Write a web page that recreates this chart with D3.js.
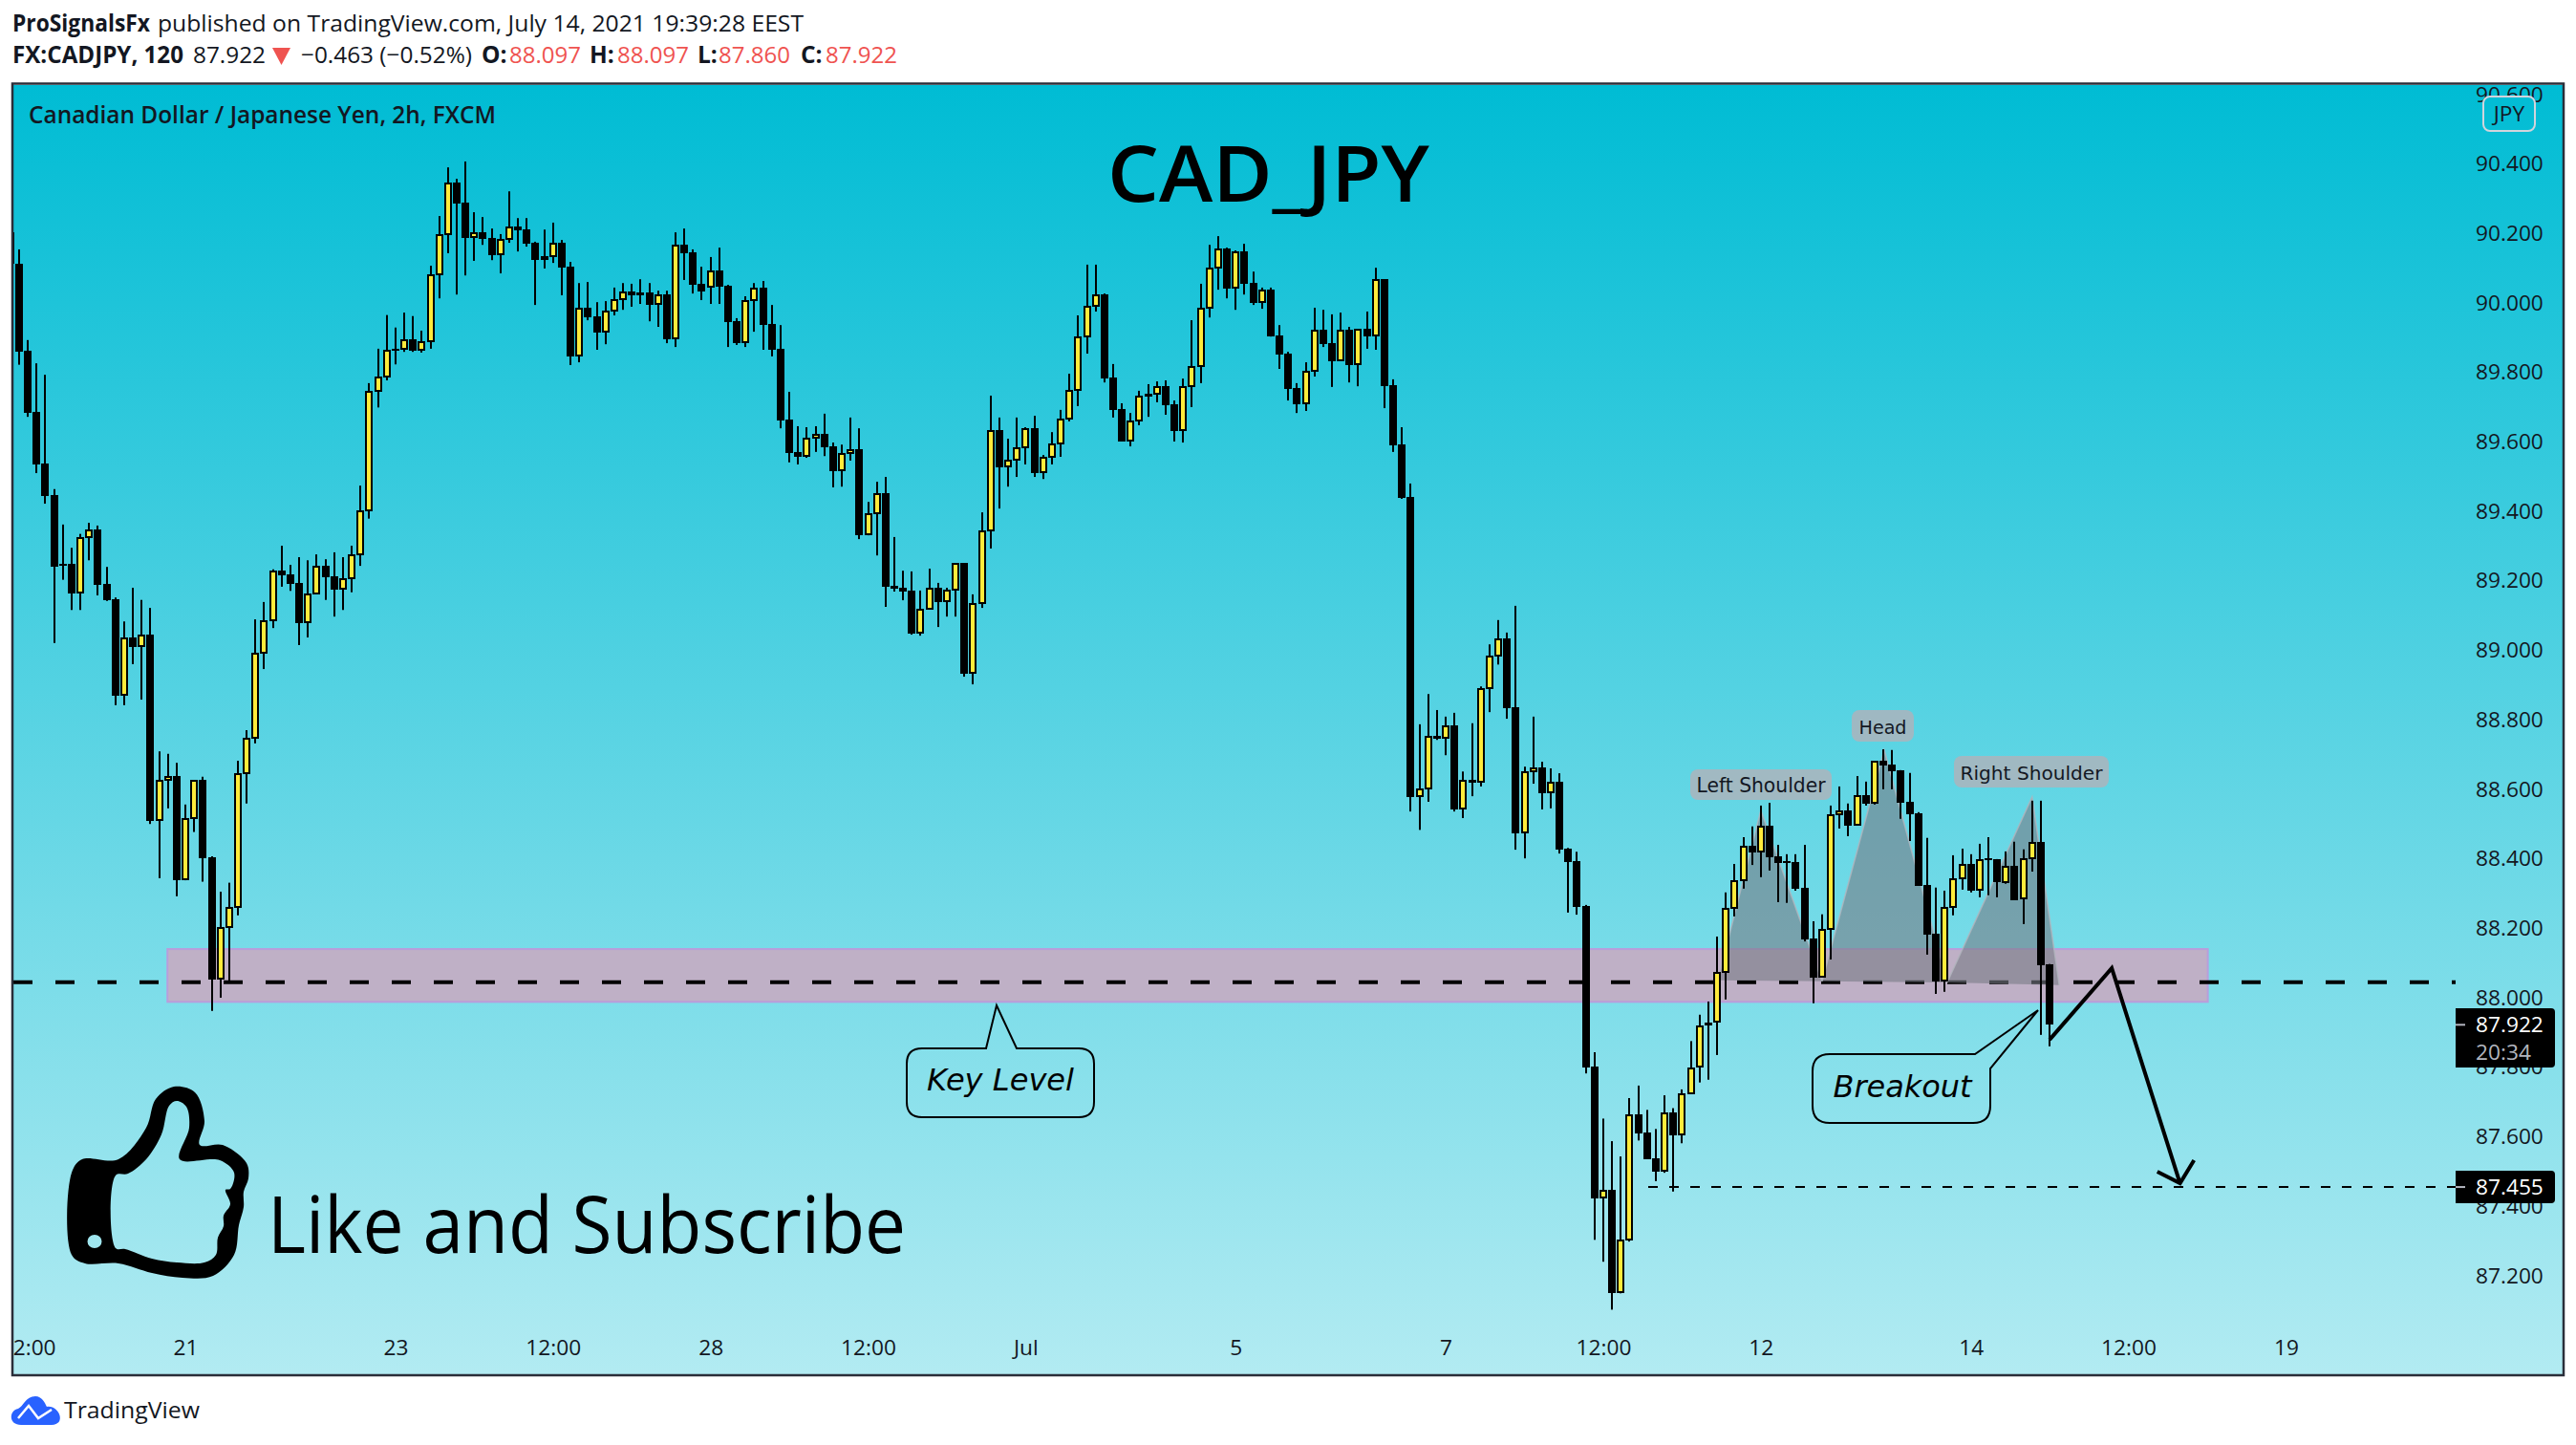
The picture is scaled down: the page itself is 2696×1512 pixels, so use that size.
<!DOCTYPE html>
<html><head><meta charset="utf-8">
<style>html,body{margin:0;padding:0;background:#fff}svg{display:block}</style>
<script src="https://cdn.jsdelivr.net/npm/d3@7/dist/d3.min.js"></script>
</head><body><svg id="c" width="2696" height="1512"></svg>
<script>
// ---------- data (first bar sits one slot left of index 0 and is clipped by the frame) ----------
const opens=[90.203,
90.112,89.862,89.686,89.538,89.447,89.249,89.249,89.164,89.324,89.347,
89.191,89.148,88.869,89.037,89.009,89.045,88.509,88.624,88.638,88.338,
88.514,88.627,88.405,88.052,88.201,88.259,88.644,88.745,88.989,89.083,
89.230,89.219,89.194,89.079,89.161,89.243,89.213,89.174,89.204,89.274,
89.400,89.744,89.784,89.868,89.865,89.895,89.862,89.887,90.079,90.195,
90.346,90.288,90.187,90.203,90.187,90.137,90.181,90.220,90.211,90.173,
90.134,90.132,90.173,90.104,89.846,89.986,89.961,89.914,89.975,90.008,
90.033,90.030,90.030,89.994,90.024,89.895,90.167,90.145,90.055,90.044,
90.093,90.049,89.947,89.884,90.005,90.044,89.939,89.868,89.664,89.571,
89.557,89.609,89.623,89.587,89.515,89.565,89.579,89.331,89.392,89.452,
89.185,89.180,89.172,89.048,89.117,89.180,89.139,89.172,89.251,88.932,
89.133,89.342,89.634,89.527,89.546,89.582,89.639,89.510,89.554,89.592,
89.664,89.747,89.901,89.989,90.024,89.785,89.694,89.601,89.659,89.738,
89.736,89.760,89.708,89.631,89.758,89.815,89.983,90.099,90.156,90.041,
90.148,90.057,90.000,90.038,89.906,89.854,89.755,89.708,89.802,89.923,
89.884,89.832,89.923,89.821,89.925,89.903,90.068,89.763,89.592,89.441,
88.578,88.599,88.753,88.744,88.784,88.542,88.627,88.619,88.888,88.981,
89.035,88.836,88.472,88.649,88.662,88.588,88.621,88.428,88.393,88.264,
87.802,87.421,87.447,87.149,87.301,87.663,87.611,87.537,87.499,87.671,
87.603,87.722,87.798,87.929,87.927,88.072,88.257,88.336,88.438,88.418,
88.495,88.407,88.392,88.391,88.317,88.171,88.058,88.196,88.526,88.539,
88.495,88.583,88.559,88.682,88.671,88.655,88.564,88.531,88.325,88.184,
88.047,88.259,88.341,88.385,88.308,88.401,88.399,88.330,88.380,88.284,
88.399,88.449,88.097];
const highs=[90.203,
90.154,89.893,89.826,89.793,89.464,89.362,89.295,89.335,89.367,89.359,
89.240,89.152,89.083,89.180,89.145,89.122,88.709,88.702,88.676,88.556,
88.627,88.636,88.407,88.305,88.331,88.682,88.770,89.089,89.139,89.233,
89.301,89.246,89.268,89.259,89.276,89.262,89.282,89.268,89.301,89.474,
89.769,89.868,89.965,89.929,89.972,89.962,89.920,90.107,90.250,90.390,
90.357,90.407,90.261,90.247,90.214,90.198,90.321,90.244,90.244,90.176,
90.211,90.231,90.181,90.118,90.057,90.060,90.002,90.005,90.044,90.057,
90.055,90.068,90.057,90.035,90.035,90.203,90.214,90.154,90.104,90.132,
90.159,90.052,89.956,90.019,90.057,90.063,89.994,89.936,89.744,89.645,
89.642,89.645,89.681,89.598,89.592,89.670,89.639,89.427,89.485,89.499,
89.326,89.229,89.227,89.172,89.235,89.194,89.180,89.251,89.251,89.161,
89.397,89.733,89.670,89.609,89.670,89.642,89.675,89.562,89.628,89.692,
89.796,89.964,90.110,90.110,90.027,89.824,89.711,89.683,89.747,89.766,
89.774,89.777,89.719,89.782,89.950,90.055,90.167,90.192,90.159,90.151,
90.170,90.090,90.044,90.044,89.936,89.859,89.769,89.829,89.986,89.980,
89.967,89.972,89.931,89.925,89.975,90.101,90.068,89.780,89.642,89.480,
88.787,88.874,88.828,88.809,88.820,88.651,88.790,88.896,89.017,89.087,
89.051,89.128,88.665,88.809,88.679,88.660,88.646,88.431,88.420,88.267,
87.843,87.652,87.587,87.543,87.711,87.747,87.677,87.622,87.719,87.682,
87.736,87.875,87.951,87.989,88.176,88.303,88.385,88.462,88.493,88.553,
88.561,88.440,88.413,88.413,88.440,88.220,88.240,88.553,88.608,88.559,
88.638,88.622,88.682,88.715,88.713,88.655,88.647,88.534,88.460,88.317,
88.308,88.410,88.429,88.413,88.443,88.462,88.399,88.421,88.449,88.427,
88.567,88.567,88.097];
const lows=[90.112,
89.822,89.672,89.510,89.422,89.021,89.203,89.116,89.116,89.259,89.158,
89.142,88.842,88.842,88.960,88.858,88.500,88.344,88.545,88.292,88.338,
88.477,88.334,87.962,88.000,88.047,88.237,88.559,88.732,88.946,89.064,
89.183,89.171,89.015,89.037,89.161,89.145,89.097,89.116,89.167,89.243,
89.379,89.699,89.777,89.823,89.859,89.859,89.857,89.868,90.013,90.143,
90.024,90.079,90.121,90.167,90.123,90.085,90.173,90.148,90.162,89.994,
90.099,90.115,90.022,89.821,89.829,89.950,89.865,89.881,89.964,89.980,
89.989,89.997,89.947,89.931,89.884,89.873,90.066,90.027,90.008,89.997,
89.997,89.873,89.879,89.873,89.917,89.865,89.846,89.639,89.541,89.535,
89.554,89.571,89.559,89.469,89.471,89.546,89.320,89.331,89.273,89.125,
89.169,89.144,89.045,89.042,89.117,89.067,89.097,89.097,88.924,88.902,
89.122,89.293,89.408,89.471,89.499,89.535,89.499,89.493,89.535,89.557,
89.659,89.703,89.854,89.975,89.771,89.670,89.601,89.587,89.648,89.672,
89.714,89.678,89.601,89.598,89.700,89.769,89.958,90.038,90.013,89.980,
90.024,89.994,89.983,89.903,89.810,89.719,89.683,89.689,89.788,89.873,
89.758,89.832,89.771,89.760,89.868,89.865,89.697,89.571,89.436,88.536,
88.483,88.564,88.742,88.698,88.536,88.517,88.580,88.608,88.822,88.959,
88.803,88.426,88.401,88.616,88.542,88.545,88.415,88.245,88.239,87.782,
87.303,87.240,87.102,87.149,87.298,87.589,87.535,87.472,87.496,87.442,
87.581,87.722,87.756,87.764,87.835,87.995,88.234,88.314,88.382,88.347,
88.366,88.275,88.273,88.308,88.162,87.984,88.058,88.110,88.487,88.465,
88.495,88.553,88.556,88.600,88.600,88.515,88.451,88.322,88.124,88.011,
88.017,88.237,88.311,88.303,88.289,88.295,88.289,88.328,88.281,88.212,
88.363,87.893,87.860];
const closes=[90.112,
89.859,89.683,89.535,89.444,89.240,89.242,89.164,89.327,89.347,89.188,
89.145,88.869,89.037,89.009,89.046,88.509,88.627,88.638,88.338,88.517,
88.627,88.402,88.052,88.204,88.262,88.647,88.748,88.992,89.086,89.230,
89.216,89.191,89.079,89.164,89.243,89.210,89.174,89.207,89.276,89.403,
89.747,89.787,89.865,89.862,89.895,89.862,89.890,90.082,90.198,90.346,
90.286,90.187,90.203,90.184,90.137,90.184,90.220,90.209,90.170,90.123,
90.123,90.173,90.101,89.846,89.986,89.958,89.914,89.978,90.011,90.033,
90.022,90.022,89.994,90.024,89.895,90.167,90.143,90.052,90.033,90.093,
90.046,89.945,89.884,90.008,90.044,89.936,89.865,89.661,89.568,89.557,
89.612,89.623,89.584,89.515,89.568,89.579,89.331,89.394,89.452,89.183,
89.177,89.169,89.048,89.119,89.180,89.139,89.174,89.251,88.932,89.136,
89.345,89.634,89.527,89.548,89.584,89.639,89.510,89.557,89.595,89.667,
89.749,89.903,89.991,90.024,89.782,89.692,89.601,89.661,89.733,89.730,
89.760,89.705,89.631,89.760,89.818,89.986,90.101,90.156,90.041,90.148,
90.055,90.000,90.038,89.903,89.851,89.752,89.708,89.804,89.923,89.881,
89.832,89.923,89.821,89.925,89.903,90.068,89.760,89.590,89.438,88.578,
88.602,88.753,88.744,88.784,88.542,88.627,88.619,88.891,88.984,89.035,
88.833,88.472,88.651,88.662,88.588,88.621,88.426,88.390,88.261,87.799,
87.421,87.447,87.149,87.303,87.663,87.609,87.535,87.499,87.671,87.603,
87.725,87.799,87.919,87.919,88.074,88.259,88.339,88.438,88.418,88.495,
88.405,88.388,88.387,88.313,88.167,88.058,88.198,88.528,88.539,88.495,
88.583,88.559,88.682,88.669,88.652,88.561,88.528,88.322,88.182,88.047,
88.262,88.344,88.385,88.308,88.399,88.395,88.333,88.380,88.281,88.402,
88.449,88.094,87.922];

const priceTicks=[90.6,90.4,90.2,90.0,89.8,89.6,89.4,89.2,89.0,88.8,88.6,88.4,88.2,88.0,87.8,87.6,87.4,87.2];
const timeTickIndex=[1,19,43,61,79,97,115,139,163,181,199,223,241,259];
const timeTickLabels=["12:00","21","23","12:00","28","12:00","Jul","5","7","12:00","12","14","12:00","19"];

const keyLevel=88.0446, targetLevel=87.455, lastClose=87.922;
const zoneTop=88.140, zoneBottom=87.988, zoneFromIndex=16.95, zoneToIndex=250.07;
const shoulderLeft=[[194.1,88.05],[199.0,88.539],[206.0,88.047]];
const shoulderHead=[[206.0,88.047],[213.1,88.7125],[220.3,88.044]];
const shoulderRight=[[220.3,88.044],[230.0,88.578],[233.1,88.036]];
const projection=[[232,87.879],[239.1,88.085],[246.9,87.466]];
const arrowHead=[[244.3,87.499],[246.9,87.466],[248.5,87.532]];

// ---------- scales ----------
const PL=14,PR=2682,PT=89,PB=1438;
const x=d3.scaleLinear().domain([0,232]).range([20,2145.1]);
const y=d3.scaleLinear().domain([86.916,90.627]).range([PB,PT]);
const svg=d3.select("#c");
const DARK="#131722", FONT="'Open Sans','Noto Sans',sans-serif", VFONT="'DejaVu Sans',sans-serif";

const defs=svg.append("defs");
const grad=defs.append("linearGradient").attr("id","bg").attr("gradientUnits","userSpaceOnUse")
  .attr("x1",0).attr("y1",PT).attr("x2",0).attr("y2",PB);
grad.append("stop").attr("offset",0).attr("stop-color","#00bcd4");
grad.append("stop").attr("offset",1).attr("stop-color","#b2ebf2");
defs.append("clipPath").attr("id","plot").append("rect").attr("x",PL).attr("y",PT).attr("width",PR-PL).attr("height",PB-PT);

function txt(g,xp,yp,s,o={}){
  const t=g.append("text").attr("x",xp).attr("y",yp).text(s)
    .attr("font-family",o.family||FONT).attr("font-size",o.size||24).attr("font-weight",o.weight||400)
    .attr("fill",o.fill||DARK);
  if(o.len){t.attr("textLength",o.len).attr("lengthAdjust","spacingAndGlyphs");}
  if(o.italic)t.attr("font-style","italic");
  if(o.anchor)t.attr("text-anchor",o.anchor);
  return t;
}

// ---------- header ----------
const head=svg.append("g");
txt(head,13,33,"ProSignalsFx",{weight:700,size:24.5,len:144});
txt(head,165,33,"published on TradingView.com, July 14, 2021 19:39:28 EEST",{size:24.5,len:676});
txt(head,13,66,"FX:CADJPY, 120",{weight:700,size:24.5,len:179});
txt(head,202,66,"87.922",{size:24.5,len:76});
head.append("path").attr("fill","#ef5350").attr("d",d3.line()([[285,50],[304,50],[294.5,68]])+"Z");
txt(head,315,66,"\u22120.463 (\u22120.52%)",{size:24.5,len:179});
[["O:",504,533,"88.097"],["H:",617,646,"88.097"],["L:",730,752,"87.860"],["C:",838,864,"87.922"]].forEach(r=>{
  txt(head,r[1],66,r[0],{weight:700,size:24.5});
  txt(head,r[2],66,r[3],{size:24.5,len:75,fill:"#ef5350"});
});

// ---------- plot ----------
svg.append("rect").attr("x",PL).attr("y",PT).attr("width",PR-PL).attr("height",PB-PT).attr("fill","url(#bg)");
const plot=svg.append("g").attr("clip-path","url(#plot)");

// key zone
plot.append("rect").attr("x",x(zoneFromIndex)).attr("width",x(zoneToIndex)-x(zoneFromIndex))
  .attr("y",y(zoneTop)).attr("height",y(zoneBottom)-y(zoneTop))
  .attr("fill","#bfb0c6").attr("stroke","#b99ddb").attr("stroke-width",2);

// key level line
plot.append("line").attr("x1",PL).attr("x2",2570).attr("y1",y(keyLevel)).attr("y2",y(keyLevel))
  .attr("stroke","#000").attr("stroke-width",4).attr("stroke-dasharray","20 24");

// head and shoulders
const tri=d3.line().x(d=>x(d[0])).y(d=>y(d[1]));
[shoulderLeft,shoulderHead,shoulderRight].forEach(t=>{
  plot.append("path").attr("d",tri(t)+"Z").attr("fill","rgba(120,123,134,0.6)").attr("stroke","none");
  plot.append("path").attr("d",tri(t)).attr("fill","none").attr("stroke","rgba(178,181,190,0.8)").attr("stroke-width",1.5);
});

// candles
const bars=opens.map((o,i)=>({i:i-1,o,h:highs[i],l:lows[i],c:closes[i],up:closes[i]>o}));
const cg=plot.append("g");
const cx=d=>Math.round(x(d.i));
cg.selectAll("rect.w").data(bars).join("rect").attr("class","w")
  .attr("x",d=>cx(d)-1).attr("width",2)
  .attr("y",d=>y(d.h)).attr("height",d=>Math.max(1,y(d.l)-y(d.h))).attr("fill","#000");
const by=d=>Math.round(y(Math.max(d.o,d.c)));
const bh=d=>Math.max(2,Math.round(y(Math.min(d.o,d.c)))-by(d));
cg.selectAll("rect.b").data(bars).join("rect").attr("class","b")
  .attr("x",d=>cx(d)-4).attr("width",8).attr("y",by).attr("height",bh).attr("fill","#000");
cg.selectAll("rect.f").data(bars.filter(d=>d.up)).join("rect").attr("class","f")
  .attr("x",d=>cx(d)-2).attr("width",4).attr("y",d=>by(d)+(bh(d)>3?2:1)).attr("height",d=>Math.max(1,bh(d)-(bh(d)>3?4:2)))
  .attr("fill","#ffeb3b");

// target line
plot.append("line").attr("x1",1725).attr("x2",2570).attr("y1",y(targetLevel)).attr("y2",y(targetLevel))
  .attr("stroke","#000").attr("stroke-width",2).attr("stroke-dasharray","10 12");

// projection
const pl=d3.line().x(d=>x(d[0])).y(d=>y(d[1]));
plot.append("path").attr("d",pl(projection)).attr("fill","none").attr("stroke","#000").attr("stroke-width",4).attr("stroke-linejoin","miter");
plot.append("path").attr("d",pl(arrowHead)).attr("fill","none").attr("stroke","#000").attr("stroke-width",4);

// pattern labels
function tag(x0,y0,x1,y1,s,size,tx){
  plot.append("rect").attr("x",x0).attr("y",y0).attr("width",x1-x0).attr("height",y1-y0).attr("rx",8)
    .attr("fill","rgba(180,177,185,0.78)");
  txt(plot,(x0+x1)/2,(y0+y1)/2+8,s,{family:VFONT,size:size,anchor:"middle",len:tx});
}
tag(1769,805,1917,837,"Left Shoulder",20.5,135);
tag(1938,743,2003,776,"Head",20,50);
tag(2045,791,2207,824,"Right Shoulder",20,149);

// callouts
function bubble(x0,y0,x1,y1,r,pathTail){
  plot.append("path").attr("fill","none").attr("stroke","#000").attr("stroke-width",2).attr("d",pathTail(x0,y0,x1,y1,r));
}
bubble(949,1097,1145,1169,16,(a,b,c,d,r)=>`M${a+r},${b}L1032,${b}L1043,1052L1064,${b}L${c-r},${b}Q${c},${b} ${c},${b+r}L${c},${d-r}Q${c},${d} ${c-r},${d}L${a+r},${d}Q${a},${d} ${a},${d-r}L${a},${b+r}Q${a},${b} ${a+r},${b}Z`);
bubble(1897,1103,2083,1175,18,(a,b,c,d,r)=>`M${a+r},${b}L2067,${b}L2133,1057L${c},1118L${c},${d-r}Q${c},${d} ${c-r},${d}L${a+r},${d}Q${a},${d} ${a},${d-r}L${a},${b+r}Q${a},${b} ${a+r},${b}Z`);
txt(plot,1047,1141,"Key Level",{family:VFONT,size:32,italic:true,anchor:"middle",fill:"#000",len:154});
txt(plot,1991,1148,"Breakout",{family:VFONT,size:32,italic:true,anchor:"middle",fill:"#000",len:145});

// big texts
txt(plot,1159,211,"CAD_JPY",{size:82,weight:600,fill:"#000",len:337});
txt(plot,280,1311,"Like and Subscribe",{size:83,fill:"#000",len:668});
txt(plot,30,129,"Canadian Dollar / Japanese Yen, 2h, FXCM",{size:24.5,weight:600,len:489});

// thumb icon
const outer=[[75,1227],[86,1213],[124,1213],[153,1180],[163,1150],[182,1137],[204,1143],[214,1173],[209,1198],[233,1198],[258,1217],[260,1233],[255,1247],[255,1263],[250,1282],[245,1313],[223,1335],[191,1337],[159,1332],[124,1322],[89,1322],[75,1313]];
const inner=[[121,1230],[134,1228],[153,1213],[169,1187],[177,1157],[185,1152],[195,1158],[198,1180],[188,1213],[230,1214],[245,1227],[241,1244],[236,1245],[241,1260],[234,1272],[234,1283],[228,1295],[226,1313],[214,1321],[185,1321],[159,1317],[131,1307],[121,1306]];
const lin=d3.line().curve(d3.curveCatmullRomClosed.alpha(0.5));
plot.append("path").attr("fill","#000").attr("fill-rule","evenodd")
  .attr("d",lin(outer)+lin(inner)+"M106.5,1299a7.5,7 0 1,0 -15,0a7.5,7 0 1,0 15,0Z");

// ---------- axes ----------
const tFmt=new Map(timeTickIndex.map((v,i)=>[v,timeTickLabels[i]]));
const xAxis=d3.axisBottom(x).tickValues(timeTickIndex).tickFormat(d=>tFmt.get(d)).tickSize(0).tickPadding(0);
const xg=svg.append("g").attr("transform","translate(0,1402)").call(xAxis);
xg.select(".domain").remove();
xg.selectAll("text").attr("font-family",FONT).attr("font-size",22.7).attr("fill",DARK);
// keep the first label cut by the frame, as in the picture
svg.append("rect").attr("x",0).attr("y",1395).attr("width",PL).attr("height",40).attr("fill","#fff");

const yAxis=d3.axisRight(y).tickValues(priceTicks).tickFormat(d3.format(".3f")).tickSize(0).tickPadding(0);
const yg=plot.append("g").attr("transform","translate(2591,0)").call(yAxis);
yg.select(".domain").remove();
yg.selectAll("text").attr("font-family",FONT).attr("font-size",22.7).attr("fill",DARK);

// currency box
plot.append("rect").attr("x",2599).attr("y",101).attr("width",54).attr("height",36).attr("rx",7)
  .attr("fill","url(#bg)").attr("stroke","#d1d4dc").attr("stroke-width",2);
txt(plot,2626,127,"JPY",{size:22.7,anchor:"middle"});

// price labels
function priceBox(y0,y1,val,sub){
  plot.append("path").attr("fill","#000")
    .attr("d",`M2570,${y0}L2670,${y0}Q2674,${y0} 2674,${y0+4}L2674,${y1-4}Q2674,${y1} 2670,${y1}L2570,${y1}Z`);
  plot.append("rect").attr("x",2570).attr("y",y(val)-1).attr("width",10).attr("height",2).attr("fill","#b2b5be");
  txt(plot,2591,y(val)+8,d3.format(".3f")(val),{size:22.7,fill:"#fff"});
  if(sub)txt(plot,2591,y(val)+37,sub,{size:22.7,fill:"#b2b5be"});
}
priceBox(1055,1117,lastClose,"20:34");
priceBox(1225,1259,targetLevel);

// frame
svg.append("rect").attr("x",13).attr("y",87.5).attr("width",2670).attr("height",1351.5)
  .attr("fill","none").attr("stroke","#2a2e39").attr("stroke-width",2.5);

// ---------- footer ----------
const foot=svg.append("g");
foot.append("path").attr("fill","#2962ff").attr("d","M22,1491C9,1491 9,1476 19,1474C24,1472 27,1461 37,1461C44,1461 47,1468 49,1472C62,1470 70,1491 54,1491Z");
foot.append("path").attr("fill","none").attr("stroke","#fff").attr("stroke-width",2.5).attr("d","M19,1484L30,1471L40,1484L54,1475");
txt(foot,67,1484,"TradingView",{size:24,len:142,fill:"#131722"});
</script></body></html>
